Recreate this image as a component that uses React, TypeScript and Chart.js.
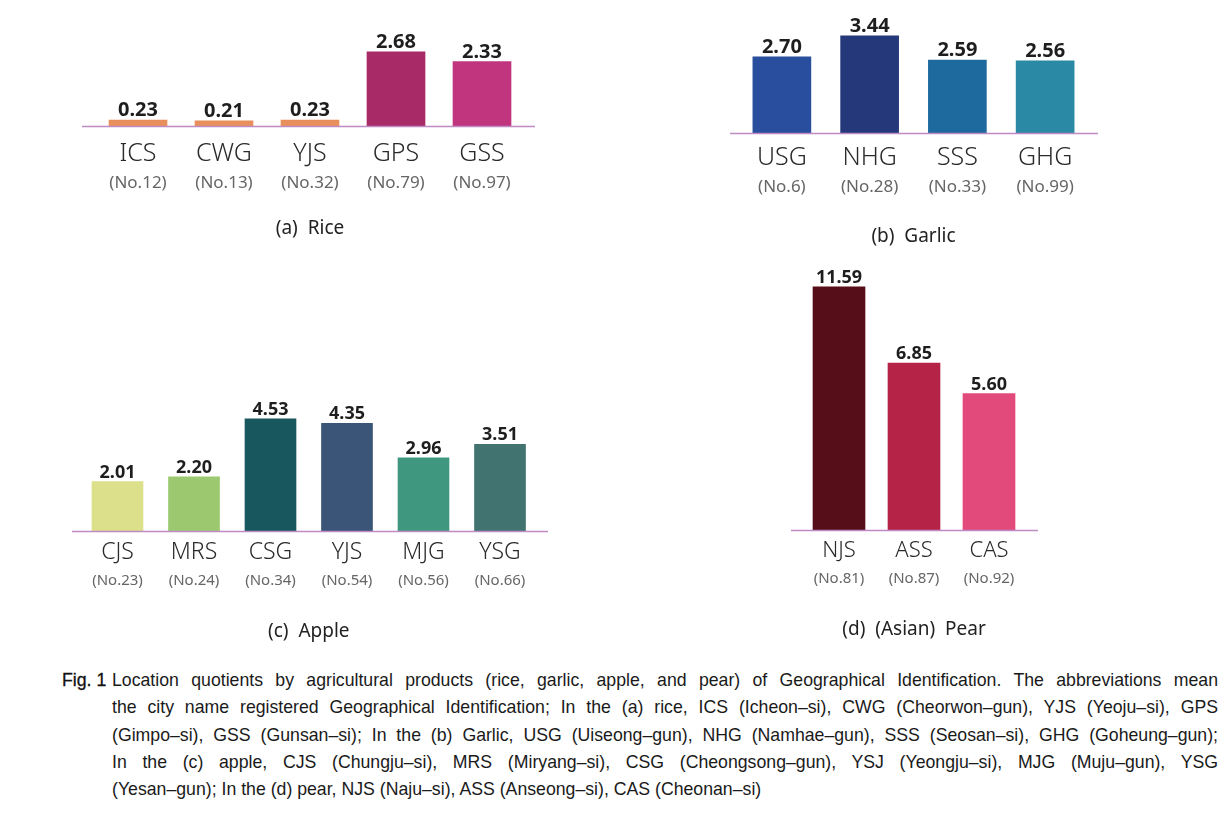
import React, { useEffect, useRef } from 'react';
import { Chart, registerables, LinearScale } from 'chart.js';

Chart.register(...registerables);

// A linear scale that visually compresses values above a break point
class BrokenLinearScale extends LinearScale {
  static id = 'brokenLinear';
  static defaults = LinearScale.defaults;
  getPixelForValue(value: number) {
    const o: any = this.options;
    const b = typeof o.breakAt === 'number' ? o.breakAt : Infinity;
    const k = typeof o.compress === 'number' ? o.compress : 1;
    const v = value > b ? b + (value - b) * k : value;
    return super.getPixelForValue(v);
  }
}
Chart.register(BrokenLinearScale as any);

// ---------- DATA ----------
const riceLabels = ['ICS', 'CWG', 'YJS', 'GPS', 'GSS'];
const riceNos = ['(No.12)', '(No.13)', '(No.32)', '(No.79)', '(No.97)'];
const riceValues = [0.23, 0.21, 0.23, 2.68, 2.33];
const riceColors = ['#e98f5b', '#e98f5b', '#e98f5b', '#a82a67', '#c0357e'];
const riceTitle = '(a)  Rice';

const garlicLabels = ['USG', 'NHG', 'SSS', 'GHG'];
const garlicNos = ['(No.6)', '(No.28)', '(No.33)', '(No.99)'];
const garlicValues = [2.70, 3.44, 2.59, 2.56];
const garlicColors = ['#2a4e9e', '#24387a', '#1e6a9f', '#2a8aa6'];
const garlicTitle = '(b)  Garlic';

const appleLabels = ['CJS', 'MRS', 'CSG', 'YJS', 'MJG', 'YSG'];
const appleNos = ['(No.23)', '(No.24)', '(No.34)', '(No.54)', '(No.56)', '(No.66)'];
const appleValues = [2.01, 2.20, 4.53, 4.35, 2.96, 3.51];
const appleColors = ['#dce08b', '#9cc870', '#17575d', '#3a5577', '#3f9780', '#417470'];
const appleTitle = '(c)  Apple';

const pearLabels = ['NJS', 'ASS', 'CAS'];
const pearNos = ['(No.81)', '(No.87)', '(No.92)'];
const pearValues = [11.59, 6.85, 5.60];
const pearColors = ['#560e18', '#b52347', '#e24a7c'];
const pearTitle = '(d)  (Asian)  Pear';

const captionLabel = 'Fig. 1';
const captionLines = [
  'Location quotients by agricultural products (rice, garlic, apple, and pear) of Geographical Identification. The abbreviations mean',
  'the city name registered Geographical Identification; In the (a) rice, ICS (Icheon–si), CWG (Cheorwon–gun), YJS (Yeoju–si), GPS',
  '(Gimpo–si), GSS (Gunsan–si); In the (b) Garlic, USG (Uiseong–gun), NHG (Namhae–gun), SSS (Seosan–si), GHG (Goheung–gun);',
  'In the (c) apple, CJS (Chungju–si), MRS (Miryang–si), CSG (Cheongsong–gun), YSJ (Yeongju–si), MJG (Muju–gun), YSG',
  '(Yesan–gun); In the (d) pear, NJS (Naju–si), ASS (Anseong–si), CAS (Cheonan–si)',
];

// ---------- LAYOUT ----------
const FONT = "'Noto Sans', 'DejaVu Sans', sans-serif";

type Spec = {
  labels: string[]; subs: string[]; values: number[]; colors: string[]; title: string;
  left: number; top: number; width: number; baseline: number;
  areaLeft: number; areaRight: number; areaTop: number; ppu: number;
  lineL: number; lineR: number; barThickness: number;
  m: number; s: number; t: number;
  mainSize: number; subSize: number; valueSize: number; titleSize: number;
  breakAt?: number; compress?: number;
};

const specs: Spec[] = [
  {
    labels: riceLabels, subs: riceNos, values: riceValues, colors: riceColors, title: riceTitle,
    left: 60, top: 20, width: 500, baseline: 127, areaLeft: 95, areaRight: 525, areaTop: 30, ppu: 27.99,
    lineL: 82, lineR: 535, barThickness: 58, m: 27, s: 57, t: 102,
    mainSize: 25, subSize: 17, valueSize: 20, titleSize: 19,
  },
  {
    labels: garlicLabels, subs: garlicNos, values: garlicValues, colors: garlicColors, title: garlicTitle,
    left: 700, top: 5, width: 430, baseline: 134, areaLeft: 738, areaRight: 1089, areaTop: 15, ppu: 28.49,
    lineL: 730, lineR: 1098, barThickness: 58, m: 24, s: 54, t: 103,
    mainSize: 25, subSize: 17, valueSize: 20, titleSize: 19,
  },
  {
    labels: appleLabels, subs: appleNos, values: appleValues, colors: appleColors, title: appleTitle,
    left: 40, top: 380, width: 540, baseline: 532, areaLeft: 79.25, areaRight: 538.25, areaTop: 390, ppu: 24.96,
    lineL: 72, lineR: 548, barThickness: 51, m: 21, s: 49, t: 100,
    mainSize: 23, subSize: 15, valueSize: 18, titleSize: 19,
  },
  {
    labels: pearLabels, subs: pearNos, values: pearValues, colors: pearColors, title: pearTitle,
    left: 760, top: 255, width: 300, baseline: 531, areaLeft: 801.5, areaRight: 1026.5, areaTop: 265, ppu: 24.5,
    lineL: 791, lineR: 1038, barThickness: 52, m: 20, s: 48, t: 99,
    mainSize: 22, subSize: 15, valueSize: 18, titleSize: 19,
    breakAt: 7, compress: 0.645,
  },
];

function canvasHeight(s: Spec) {
  return s.baseline - s.top + s.t + 0.6 * s.titleSize;
}

function Panel({ spec }: { spec: Spec }) {
  const ref = useRef<HTMLCanvasElement>(null);
  const H = canvasHeight(spec);
  useEffect(() => {
    const s = spec;
    // main axis: two-line label ['', name]; box height h, name centred at m
    const h = Math.round(s.m + (s.s - s.m) / 2);
    const Lm = 2 * s.m - h;             // line height in px
    const pm = s.m - 1.5 * Lm;           // padding
    // sub axis: centred at g below its top
    const g = s.s - h;
    const ps = g - 0.6 * s.subSize;
    const titlePadTop = s.t - (2 * s.s - h) - 0.6 * s.titleSize;

    const baselinePlugin = {
      id: 'baseline',
      afterDatasetsDraw(chart: any) {
        const ctx = chart.ctx;
        const y = chart.scales.y.getPixelForValue(0);
        ctx.save();
        ctx.strokeStyle = '#c08ac4';
        ctx.lineWidth = 1.5;
        ctx.beginPath();
        ctx.moveTo(s.lineL - s.left, y);
        ctx.lineTo(s.lineR - s.left, y);
        ctx.stroke();
        ctx.restore();
      },
    };
    const valuePlugin = {
      id: 'values',
      afterDatasetsDraw(chart: any) {
        const ctx = chart.ctx;
        const meta = chart.getDatasetMeta(0);
        const data = chart.data.datasets[0].data as number[];
        ctx.save();
        ctx.font = `bold ${s.valueSize}px ${FONT}`;
        ctx.fillStyle = '#1e1e1e';
        ctx.textAlign = 'center';
        ctx.textBaseline = 'alphabetic';
        meta.data.forEach((bar: any, i: number) => {
          ctx.fillText(data[i].toFixed(2), bar.x, bar.y - 4);
        });
        ctx.restore();
      },
    };

    const yOpts: any = {
      type: s.breakAt !== undefined ? 'brokenLinear' : 'linear',
      display: false,
      min: 0,
      max: (s.baseline - s.areaTop) / s.ppu,
    };
    if (s.breakAt !== undefined) {
      yOpts.breakAt = s.breakAt;
      yOpts.compress = s.compress;
    }

    const chart = new Chart(ref.current as HTMLCanvasElement, {
      type: 'bar',
      data: {
        labels: s.labels,
        datasets: [{
          data: s.values,
          backgroundColor: s.colors,
          barThickness: s.barThickness,
          borderWidth: 0,
        }],
      },
      options: {
        animation: false,
        responsive: false,
        devicePixelRatio: 1,
        layout: {
          padding: {
            top: s.areaTop - s.top,
            left: s.areaLeft - s.left,
            right: s.left + s.width - s.areaRight,
            bottom: 0,
          },
        },
        plugins: {
          legend: { display: false },
          tooltip: { enabled: false },
          title: {
            display: true,
            position: 'bottom',
            text: s.title,
            color: '#222',
            font: { family: FONT, size: s.titleSize, weight: 'normal', lineHeight: 1.2 },
            padding: { top: titlePadTop, bottom: 0 },
          },
        },
        scales: {
          x: {
            type: 'category',
            position: 'bottom',
            offset: true,
            grid: { display: false, drawTicks: false },
            border: { display: false },
            ticks: {
              padding: pm,
              color: '#2a2a2a',
              maxRotation: 0,
              callback: (_v: any, i: number) => ['', s.labels[i]],
              font: { family: FONT, size: s.mainSize, weight: '300', lineHeight: Lm / s.mainSize },
            },
          },
          x2: {
            type: 'category',
            labels: s.subs,
            position: 'bottom',
            offset: true,
            grid: { display: false, drawTicks: false },
            border: { display: false },
            ticks: {
              padding: ps,
              color: '#666',
              maxRotation: 0,
              font: { family: FONT, size: s.subSize, lineHeight: 1.2 },
            },
          },
          y: yOpts,
        },
      } as any,
      plugins: [baselinePlugin, valuePlugin],
    });
    return () => chart.destroy();
  }, [spec]);
  return (
    <canvas
      ref={ref}
      width={spec.width}
      height={Math.round(H)}
      style={{ position: 'absolute', left: spec.left, top: spec.top, width: spec.width, height: Math.round(H) }}
    />
  );
}

export default function App() {
  const capFont = "'Liberation Sans', Arial, sans-serif";
  return (
    <div style={{ position: 'absolute', left: 0, top: 0, width: 1230, height: 820, background: '#fff', overflow: 'hidden' }}>
      {specs.map((s, i) => <Panel key={i} spec={s} />)}
      <div style={{ position: 'absolute', left: 62, top: 667, fontFamily: capFont, fontSize: 17.7, lineHeight: '27.3px', color: '#111', WebkitTextStroke: '0.3px #111' }}>
        {captionLabel}
      </div>
      <div style={{ position: 'absolute', left: 112, top: 667, width: 1106, fontFamily: capFont, fontSize: 17.7, lineHeight: '27.3px', color: '#1a1a1a' }}>
        {captionLines.map((l, i) => (
          <div
            key={i}
            style={{
              whiteSpace: 'nowrap',
              textAlign: 'justify',
              textAlignLast: i < captionLines.length - 1 ? 'justify' : 'left',
            } as any}
          >
            {l}
          </div>
        ))}
      </div>
    </div>
  );
}
